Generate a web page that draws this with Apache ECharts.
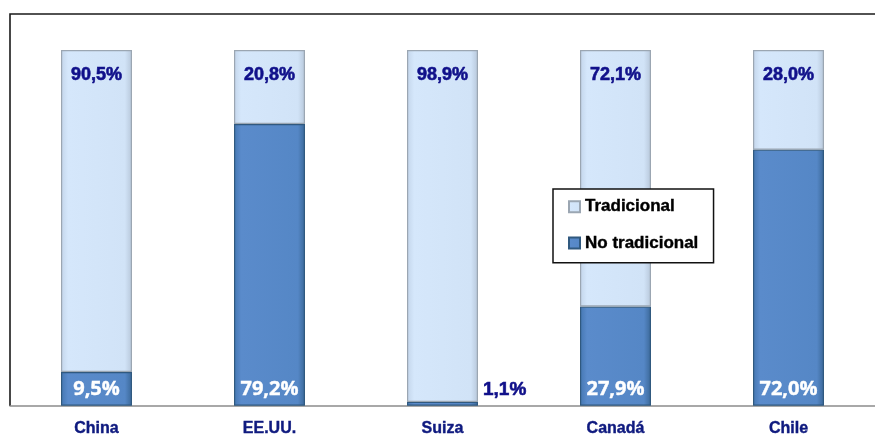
<!DOCTYPE html>
<html><head><meta charset="utf-8">
<script src="https://cdn.jsdelivr.net/npm/echarts@6/dist/echarts.min.js"></script>
<style>html,body{margin:0;padding:0;background:#fff}#c{width:875px;height:437px}</style>
</head><body><div id="c"></div>
<script>
var categories = ['China', 'EE.UU.', 'Suiza', 'Canadá', 'Chile'];
var noTradicional = [9.5, 79.2, 1.1, 27.9, 72.0];
var tradicional = [90.5, 20.8, 98.9, 72.1, 28.0];
var seriesNames = ['Tradicional', 'No tradicional'];

function fmt(v) { return v.toFixed(1).replace('.', ',') + '%'; }

var lightGrad = new echarts.graphic.LinearGradient(0, 0, 1, 0, [
  {offset: 0, color: '#c3d5ea'}, {offset: 0.1, color: '#d5e7fb'},
  {offset: 0.9, color: '#d1e3f7'}, {offset: 1, color: '#b7c7da'}]);
var darkGrad = new echarts.graphic.LinearGradient(0, 0, 1, 0, [
  {offset: 0, color: '#4577b2'}, {offset: 0.1, color: '#5a8bcb'},
  {offset: 0.9, color: '#5587c6'}, {offset: 1, color: '#3b6898'}]);

var navy = '#10108a';
var chart = echarts.init(document.getElementById('c'));
chart.setOption({
  animation: false,
  grid: {left: 10, right: -10, top: 50, bottom: 31, containLabel: false},
  graphic: [{
    type: 'polyline', z: -1,
    shape: {points: [[10, 406], [10, 14], [875, 14]]},
    style: {stroke: '#1a1a1a', lineWidth: 1.6, fill: null}
  }],
  legend: {
    orient: 'vertical', left: 553, top: 189,
    padding: [9, 15, 11, 15], itemGap: 19,
    itemWidth: 11, itemHeight: 11, icon: 'rect',
    backgroundColor: '#fff', borderColor: '#111', borderWidth: 1.5, borderRadius: 0,
    data: [seriesNames[0], seriesNames[1]],
    textStyle: {fontFamily: 'Liberation Sans, Arial', fontWeight: 'bold', fontSize: 17, color: '#000',
      textBorderColor: '#000', textBorderWidth: 0.4}
  },
  xAxis: {
    type: 'category', data: categories,
    axisLine: {lineStyle: {color: '#8c8c8c', width: 1.5}},
    axisTick: {length: 6, lineStyle: {color: '#8c8c8c'}},
    axisLabel: {margin: 15, fontFamily: 'Liberation Sans, Arial', fontWeight: 'bold', fontSize: 16, color: '#0f1a7f',
      textBorderColor: '#0f1a7f', textBorderWidth: 0.4}
  },
  yAxis: {type: 'value', min: 0, max: 100, show: false, splitLine: {show: false}},
  series: [{
    name: seriesNames[1], type: 'bar', stack: 'a', barWidth: 71,
    data: noTradicional.map(function (v, i) {
      var d = {value: v};
      if (v < 5) {
        d.label = {position: 'right', distance: 5, offset: [0, -14], color: navy,
          textBorderColor: navy, textBorderWidth: 0.6,
          fontFamily: 'Liberation Sans, Arial', fontSize: 19};
      }
      return d;
    }),
    itemStyle: {color: darkGrad, borderColor: '#30597f', borderWidth: 1.2},
    label: {show: true, position: 'insideBottom', distance: 7, color: '#fff',
      textBorderColor: '#fff', textBorderWidth: 0.4,
      fontFamily: 'Open Sans', fontWeight: 'bold', fontSize: 20,
      formatter: function (p) { return fmt(p.value); }}
  }, {
    name: seriesNames[0], type: 'bar', stack: 'a', barWidth: 71,
    data: tradicional,
    itemStyle: {color: lightGrad, borderColor: '#9ba6b2', borderWidth: 1.2},
    label: {show: true, position: 'insideTop', distance: 16, color: navy,
      textBorderColor: navy, textBorderWidth: 0.6,
      fontFamily: 'Liberation Sans, Arial', fontWeight: 'bold', fontSize: 18,
      formatter: function (p) { return fmt(p.value); }}
  }]
});
</script></body></html>
